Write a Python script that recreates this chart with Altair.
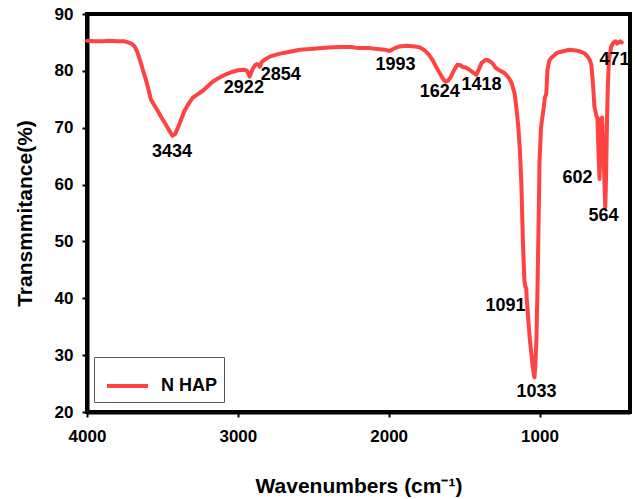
import altair as alt
import pandas as pd

# FTIR spectrum of N HAP: wavenumber (cm-1) and transmittance (%)
wavenumber = [
    4000, 3950, 3900, 3850, 3800, 3750, 3728, 3700, 3682, 3665, 3649, 3630,
    3609, 3590, 3576, 3570, 3555, 3536, 3515, 3497, 3470, 3450, 3434, 3415,
    3404, 3385, 3371, 3355, 3338, 3320, 3298, 3265, 3232, 3200, 3166, 3130,
    3086, 3040, 3000, 2960, 2940, 2930, 2922, 2912, 2901, 2885, 2874, 2862,
    2854, 2848, 2841, 2820, 2788, 2740, 2689, 2589, 2500, 2400, 2325, 2250,
    2200, 2126, 2060, 2020, 1993, 1960, 1927, 1880, 1828, 1790, 1762, 1735,
    1709, 1685, 1662, 1640, 1624, 1605, 1589, 1565, 1543, 1525, 1510, 1490,
    1464, 1440, 1418, 1400, 1384, 1360, 1344, 1325, 1311, 1295, 1285, 1260,
    1232, 1210, 1185, 1165, 1152, 1140, 1130, 1120, 1110, 1100, 1093, 1088,
    1085, 1065, 1045, 1035, 1033, 1028, 1020, 1013, 1005, 1000, 990, 980,
    972, 965, 955, 947, 935, 921, 900, 881, 850, 801, 760, 730, 702, 680,
    665, 656, 645, 636, 622, 616, 608, 602, 597, 592, 585, 575, 564, 558,
    552, 546, 540, 525, 510, 495, 485, 475, 465, 455,
]
transmittance = [
    85.3, 85.2, 85.2, 85.3, 85.2, 85.2, 85.0, 84.7, 84.2, 83.2, 81.9, 80.2,
    78.4, 76.5, 74.9, 74.7, 74.0, 73.2, 72.2, 71.4, 70.2, 69.3, 68.6, 68.9,
    69.6, 70.8, 71.8, 72.9, 73.7, 74.5, 75.3, 75.9, 76.5, 77.3, 78.1, 78.7,
    79.3, 79.8, 80.1, 80.2, 80.0, 79.5, 79.0, 79.6, 80.4, 81.0, 81.2, 81.0,
    80.7, 81.2, 81.6, 82.0, 82.5, 82.9, 83.2, 83.7, 83.9, 84.1, 84.2, 84.2,
    84.0, 84.0, 83.8, 83.7, 83.5, 84.0, 84.3, 84.4, 84.3, 84.1, 83.6, 82.9,
    81.9, 80.7, 79.6, 78.6, 78.1, 78.3, 78.9, 80.2, 81.1, 81.0, 80.7, 80.6,
    80.2, 79.7, 79.3, 80.4, 81.4, 81.9, 81.9, 81.6, 81.3, 80.7, 80.4, 80.0,
    79.6, 79.0, 77.9, 76.0, 73.2, 70.0, 66.0, 60.0, 50.0, 43.0, 42.0, 41.8,
    40.0, 33.0, 28.0, 26.2, 26.1, 28.0, 33.0, 42.0, 55.0, 64.0, 70.0, 72.0,
    73.5, 75.2, 76.0, 80.2, 81.8, 82.3, 82.8, 83.2, 83.4, 83.7, 83.6, 83.4,
    83.1, 82.5, 81.8, 81.0, 77.5, 73.7, 72.0, 71.8, 65.0, 61.0, 66.0, 71.5,
    71.8, 65.0, 56.0, 62.0, 72.0, 78.0, 81.9, 84.2, 85.0, 85.2, 84.8, 85.0,
    85.2, 85.0,
]

# Peak labels and where each label sits (wavenumber, transmittance)
peak_labels = ["3434", "2922", "2854", "1993", "1624", "1418",
               "1091", "1033", "602", "564", "471"]
label_wn = [3437, 2960, 2715, 1954, 1662, 1384, 1225, 1020, 748, 576, 503]
label_t = [65.8, 77.0, 79.3, 81.1, 76.3, 77.5, 38.6, 23.5, 61.1, 54.4, 81.9]

x_ticks = [4000, 3000, 2000, 1000]
y_ticks = [20, 30, 40, 50, 60, 70, 80, 90]

series_name = "N HAP"
line_color = "#FF4242"
font = "Liberation Sans"

spectrum = pd.DataFrame({
    "wavenumber": wavenumber,
    "transmittance": transmittance,
    "series": series_name,
})
peaks = pd.DataFrame({"label": peak_labels, "wn": label_wn, "t": label_t})

x_scale = alt.Scale(domain=[400, 4000], reverse=True, nice=False)
y_scale = alt.Scale(domain=[20, 90], nice=False, zero=False)

line = alt.Chart(spectrum).mark_line(
    strokeWidth=4, strokeCap="round", strokeJoin="round"
).encode(
    x=alt.X("wavenumber:Q", scale=x_scale,
            axis=alt.Axis(values=x_ticks, title="Wavenumbers (cm⁻¹)",
                          format="d", labelFlush=False, labelPadding=11,
                          titlePadding=31)),
    y=alt.Y("transmittance:Q", scale=y_scale,
            axis=alt.Axis(values=y_ticks, title="Transmmitance(%)",
                          labelPadding=9, titlePadding=19)),
    color=alt.Color("series:N", scale=alt.Scale(range=[line_color]),
                    legend=alt.Legend(title=None)),
    order=alt.Order("wavenumber:Q", sort="descending"),
)

labels = alt.Chart(peaks).mark_text(
    font=font, fontSize=18, fontWeight="bold", color="black",
    align="center", baseline="middle",
).encode(
    x=alt.X("wn:Q", scale=x_scale),
    y=alt.Y("t:Q", scale=y_scale),
    text="label:N",
)

chart = alt.layer(line, labels).properties(
    width=543,
    height=398,
    autosize="none",
    padding={"left": 87, "top": 14, "right": 5, "bottom": 87},
).configure_view(
    stroke="black", strokeWidth=4,
).configure_axis(
    grid=False,
    domainColor="black", domainWidth=4,
    tickColor="black", tickWidth=2, tickSize=5,
    labelFont=font, labelFontSize=17, labelFontWeight="bold",
    labelColor="black",
    titleFont=font, titleFontSize=21, titleFontWeight="bold",
    titleColor="black",
).configure_legend(
    orient="none", legendX=7, legendY=343,
    strokeColor="#555555", fillColor="white", padding=6.5,
    symbolType="stroke", symbolSize=1681, symbolStrokeWidth=4,
    symbolOffset=4.5,
    labelFont=font, labelFontSize=18, labelFontWeight="bold",
    labelColor="black", labelOffset=11,
)

chart.save("out.html", embed_options={"renderer": "svg", "actions": False})
